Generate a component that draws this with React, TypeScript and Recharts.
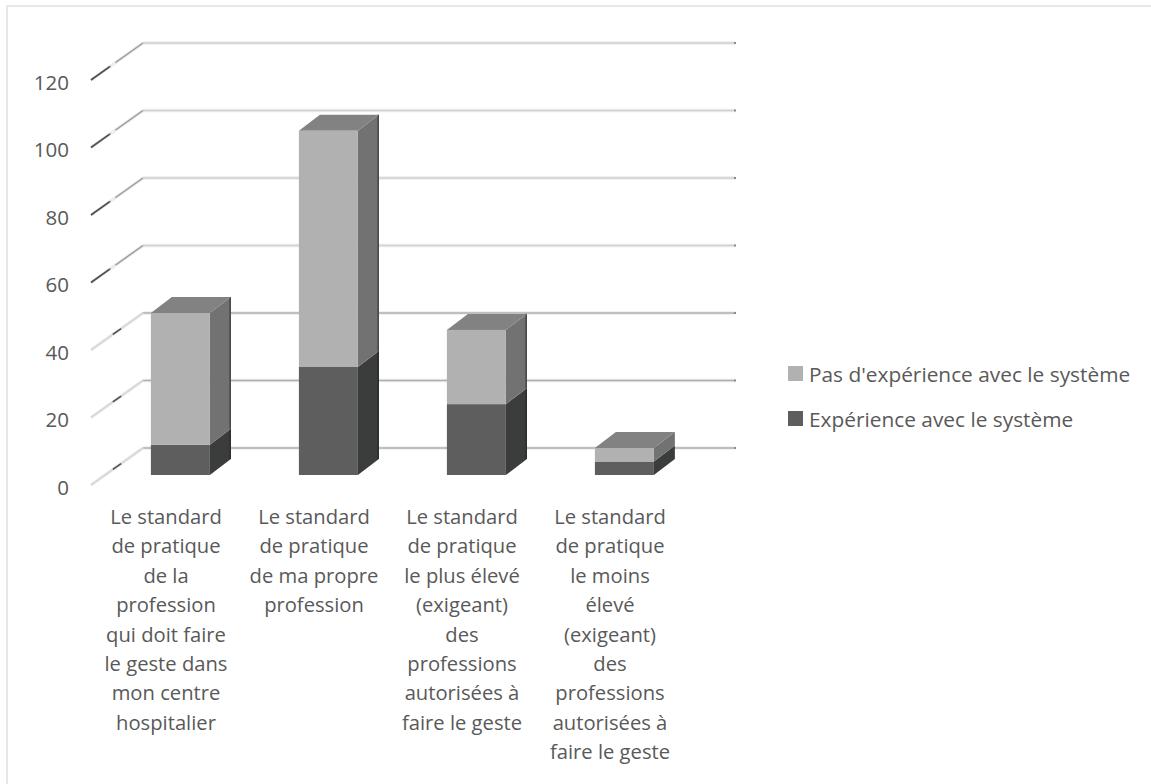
import React from "react";
import { BarChart, Bar, XAxis, YAxis, CartesianGrid, Legend } from "recharts";

const categories = [
  "Le standard\nde pratique\nde la\nprofession\nqui doit faire\nle geste dans\nmon centre\nhospitalier",
  "Le standard\nde pratique\nde ma propre\nprofession",
  "Le standard\nde pratique\nle plus élevé\n(exigeant)\ndes\nprofessions\nautorisées à\nfaire le geste",
  "Le standard\nde pratique\nle moins\nélevé\n(exigeant)\ndes\nprofessions\nautorisées à\nfaire le geste",
];
const withExperience = [9, 32, 21, 4];
const withoutExperience = [39, 70, 22, 4];
const yTicks = [0, 20, 40, 60, 80, 100, 120];

const rows = categories.map((name, i) => ({
  name,
  withExperience: withExperience[i],
  withoutExperience: withoutExperience[i],
}));

const FONT = "'Open Sans', sans-serif";
const TEXT = "#595959";

// Oblique projection of the chart's depth
const DEPTH_X = 21;
const DEPTH_Y = 16;
const WALL_X = 36.5;
const WALL_Y = 27;
const FLOOR_Y = 10;

function makeBox(side: string, edge: string, top?: string) {
  return (p: any) => {
    const { x, y, width, height, fill } = p;
    const r = x + width;
    const b = y + height;
    return (
      <g>
        <polygon
          points={`${r},${b} ${r + DEPTH_X},${b - DEPTH_Y} ${r + DEPTH_X},${y - DEPTH_Y} ${r},${y}`}
          fill={side}
        />
        {height > 20 && (
          <rect x={r + DEPTH_X - 1.5} y={y - DEPTH_Y} width={1.5} height={height} fill={edge} />
        )}
        {top && (
          <polygon
            points={`${x},${y} ${x + DEPTH_X},${y - DEPTH_Y} ${r + DEPTH_X},${y - DEPTH_Y} ${r},${y}`}
            fill={top}
          />
        )}
        <rect x={x} y={y} width={width} height={height} fill={fill} />
      </g>
    );
  };
}

const lowerBox = makeBox("#3b3d3c", "#2b2b2b");
const upperBox = makeBox("#727272", "#454545", "#828282");

// Back-wall gridline with its soft halo and small end cap
function wallLine(p: any) {
  const { x1, x2, y1, index } = p;
  const low = y1 > 300;
  const x = x1 + WALL_X;
  const xe = x2 + WALL_X;
  const y = y1 - WALL_Y;
  return (
    <g key={`wall-${index}`}>
      <line x1={x} x2={xe} y1={y} y2={y} stroke="#ececec" strokeWidth={3.5} />
      <line x1={x} x2={xe} y1={y} y2={y} stroke={low ? "#b0b0b0" : "#d2d2d2"} strokeWidth={1.4} />
      <rect x={xe - 1} y={y - 1} width={2} height={2} fill="#8a8a8a" />
    </g>
  );
}

function ValueTick(p: any) {
  const { y, payload } = p;
  const fx = 91;
  const fy = y + FLOOR_Y;
  const bx = 143;
  const by = y - WALL_Y;
  const at = (t: number) => [fx + (bx - fx) * t, fy + (by - fy) * t];
  const upper = payload.value >= 60;
  const [ax, ay] = at(upper ? 0 : 0.42);
  const [cx, cy] = at(upper ? 0.36 : 0.58);
  const [gx, gy] = at(0.38);
  const [hx, hy] = at(0.47);
  return (
    <g>
      <line x1={fx} y1={fy} x2={bx} y2={by} stroke="#e6e6e6" strokeWidth={3} />
      <line x1={fx} y1={fy} x2={bx} y2={by} stroke={upper ? "#9a9a9a" : "#d6d6d6"} strokeWidth={1.3} />
      <line x1={ax} y1={ay} x2={cx} y2={cy} stroke="#505050" strokeWidth={1.6} />
      {upper && <line x1={gx} y1={gy} x2={hx} y2={hy} stroke="#eeeeee" strokeWidth={2.4} />}
      <text x={69} y={y + 12.5} dy="0.36em" textAnchor="end" fontFamily={FONT} fontSize={20.5} fill={TEXT}>
        {payload.value}
      </text>
    </g>
  );
}

function CategoryTick(p: any) {
  const { x, payload } = p;
  const lines = String(payload.value).split("\n");
  return (
    <text textAnchor="middle" fontFamily={FONT} fontSize={20.2} fill={TEXT}>
      {lines.map((line, i) => (
        <tspan key={i} x={x - 14.5} y={524 + i * 29.4}>
          {line}
        </tspan>
      ))}
    </text>
  );
}

function LegendBlock({ payload }: any) {
  const items = [...(payload || [])].reverse();
  return (
    <div>
      {items.map((it: any) => (
        <div
          key={it.value}
          style={{
            display: "flex",
            alignItems: "center",
            height: 45,
            fontFamily: FONT,
            fontSize: 20.85,
            color: TEXT,
            whiteSpace: "nowrap",
          }}
        >
          <span style={{ width: 15, height: 15, background: it.color, marginRight: 6, flex: "none" }} />
          {it.value}
        </div>
      ))}
    </div>
  );
}

export default function App() {
  return (
    <div
      style={{
        position: "absolute",
        left: 0,
        top: 0,
        width: 1151,
        height: 784,
        background: "#fff",
        overflow: "hidden",
      }}
    >
      <div
        style={{
          position: "absolute",
          left: 6,
          top: 5,
          width: 1145,
          height: 779,
          borderTop: "2px solid #e8e8e8",
          borderLeft: "2px solid #e8e8e8",
          boxSizing: "border-box",
        }}
      />
      <BarChart
        width={1151}
        height={784}
        data={rows}
        margin={{ top: 70, right: 452.5, bottom: 249, left: 46.5 }}
        barCategoryGap="30%"
        style={{ position: "absolute", left: 0, top: 0 }}
      >
        <CartesianGrid vertical={false} horizontal={wallLine as any} />
        <XAxis
          dataKey="name"
          height={60}
          interval={0}
          axisLine={false}
          tickLine={false}
          tick={<CategoryTick />}
        />
        <YAxis
          width={60}
          domain={[0, 120]}
          ticks={yTicks}
          axisLine={false}
          tickLine={false}
          tick={<ValueTick />}
        />
        <Legend
          layout="vertical"
          align="center"
          verticalAlign="middle"
          content={<LegendBlock />}
          wrapperStyle={{ left: 788, top: 351, width: 360 }}
        />
        <Bar
          dataKey="withExperience"
          name="Expérience avec le système"
          stackId="a"
          fill="#5e5e5e"
          shape={lowerBox as any}
          isAnimationActive={false}
        />
        <Bar
          dataKey="withoutExperience"
          name="Pas d'expérience avec le système"
          stackId="a"
          fill="#b0b1b0"
          shape={upperBox as any}
          isAnimationActive={false}
        />
      </BarChart>
    </div>
  );
}
